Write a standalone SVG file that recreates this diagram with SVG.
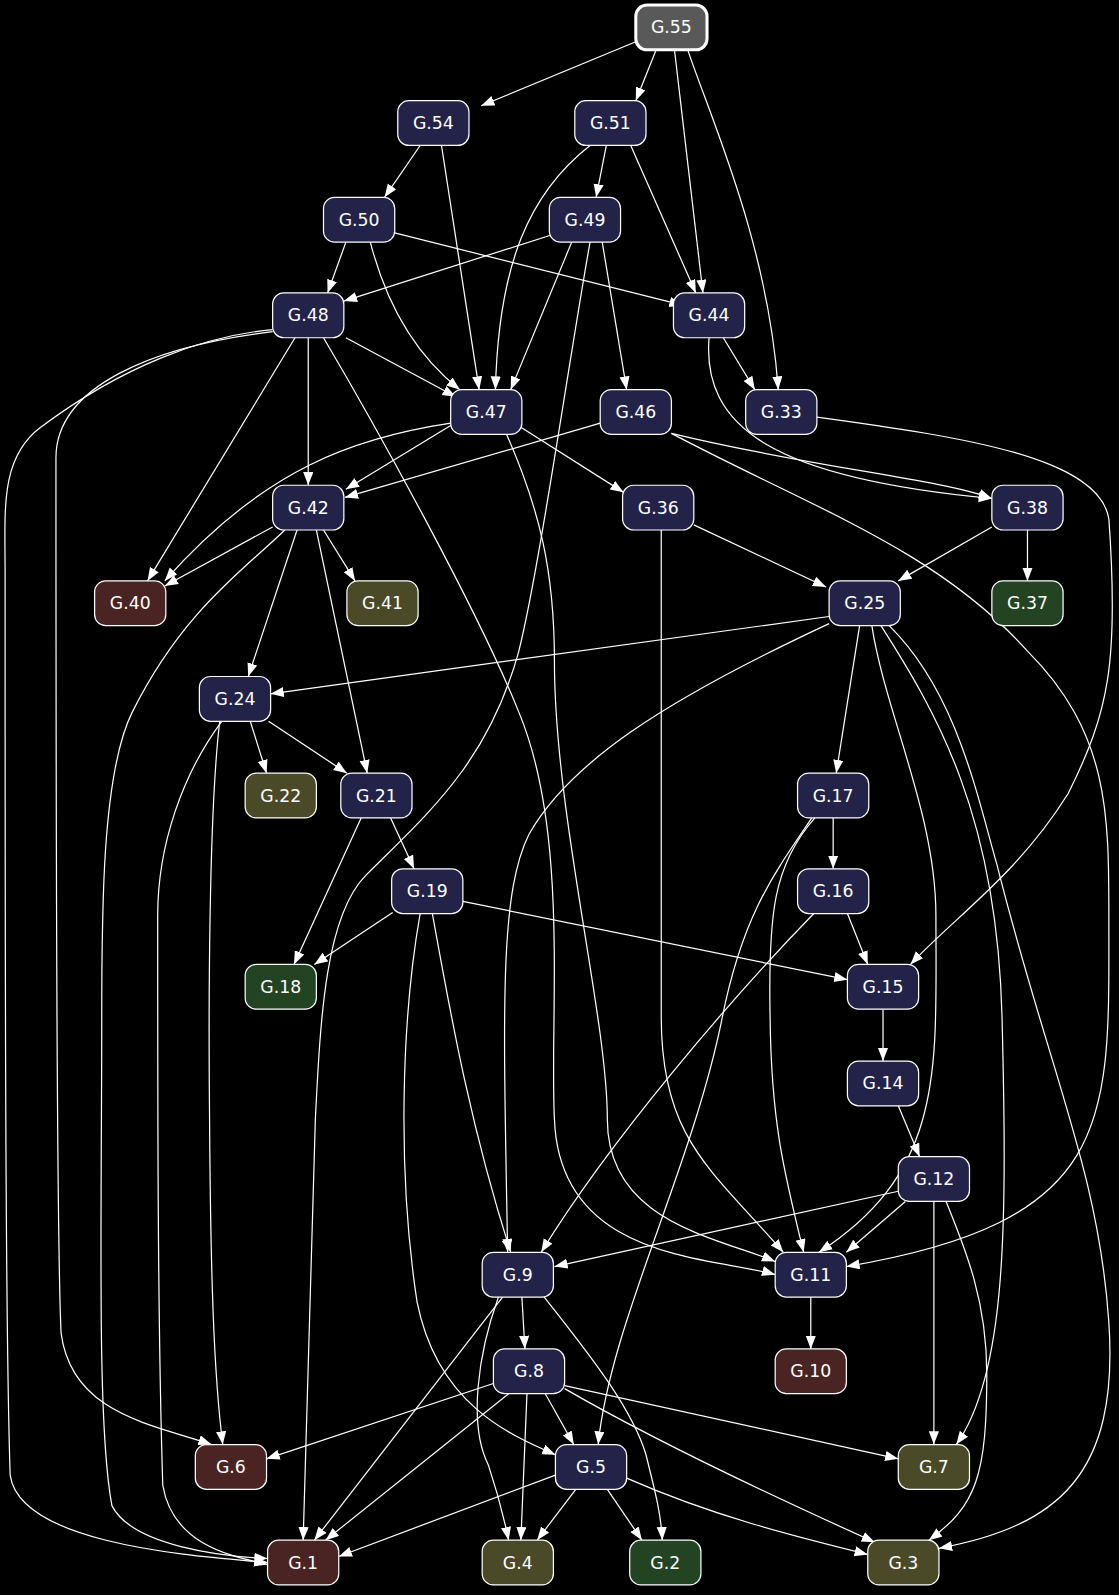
<svg xmlns="http://www.w3.org/2000/svg" width="1119" height="1595" viewBox="0 0 1119 1595">
<style>
.n rect{stroke:#fff;stroke-width:1.2}
.n text{fill:#fff;font-family:"DejaVu Sans",sans-serif;font-size:17px;text-anchor:middle;dominant-baseline:central}
.b rect{fill:#23234a}.r rect{fill:#4a2323}.o rect{fill:#4a4a28}.g rect{fill:#234423}
#edges path{fill:none;stroke:#fff;stroke-width:1.2;marker-end:url(#a)}
</style>
<defs><marker id="a" markerUnits="userSpaceOnUse" markerWidth="14" markerHeight="12" refX="13" refY="5" orient="auto"><path d="M0,0L13,5L0,10z" fill="#fff"/></marker></defs>
<rect width="1119" height="1595" fill="#000"/>
<g transform="scale(1.0173)">
<g id="edges">
<path d="M625,41L473,104"/>
<path d="M645,49L625,99"/>
<path d="M663,49L691,288"/>
<path d="M676,49C700,120 755,240 765,383"/>
<path d="M413,143L378,194"/>
<path d="M434,143L471,383"/>
<path d="M596,143L586,194"/>
<path d="M580,143C520,190 490,260 487,383"/>
<path d="M620,143L684,288"/>
<path d="M340,238L322,288"/>
<path d="M364,238C380,300 410,350 452,383"/>
<path d="M388,229L671,300"/>
<path d="M545,230L338,296"/>
<path d="M562,238L502,383"/>
<path d="M592,238L616,383"/>
<path d="M580,238C560,350 530,560 510,640C480,750 420,800 360,860C320,900 315,1000 310,1100C305,1300 300,1450 298,1514"/>
<path d="M340,332L448,390"/>
<path d="M303,332L303,477"/>
<path d="M290,332L145,571"/>
<path d="M268,324C200,330 120,360 40,420C0,450 5,500 5,560C5,900 5,1300 10,1450C20,1520 200,1530 263,1536"/>
<path d="M268,326C150,340 55,380 55,450C55,700 55,1200 60,1310C70,1390 150,1400 208,1420"/>
<path d="M318,332C370,420 470,600 510,700C560,820 540,1000 545,1100C550,1240 700,1235 762,1253"/>
<path d="M711,332L742,383"/>
<path d="M697,332C690,420 760,470 975,490"/>
<path d="M445,417L340,481"/>
<path d="M443,416C350,430 260,460 162,571"/>
<path d="M512,420L613,484"/>
<path d="M498,427C530,500 545,560 545,650C545,800 597,1000 597,1100C597,1200 700,1215 762,1240"/>
<path d="M590,416L339,489"/>
<path d="M660,426C800,460 920,470 975,490"/>
<path d="M660,426C800,500 920,540 1010,640C1090,720 1090,800 1090,900C1090,1100 1100,1200 832,1245"/>
<path d="M803,410C950,430 1080,450 1090,510C1100,650 1090,700 1050,780C1000,860 940,900 895,948"/>
<path d="M268,518L162,576"/>
<path d="M318,521L349,571"/>
<path d="M292,521L244,665"/>
<path d="M311,521L361,760"/>
<path d="M280,521C240,560 180,600 130,700C100,760 100,900 100,1000C100,1200 95,1400 110,1480C130,1520 220,1530 263,1532"/>
<path d="M682,516L812,577"/>
<path d="M650,521C650,700 650,900 650,1000C650,1120 700,1150 770,1231"/>
<path d="M975,518L883,571"/>
<path d="M1010,521L1010,571"/>
<path d="M815,606L266,682"/>
<path d="M815,613C650,690 560,750 520,820C490,880 495,1000 499,1231"/>
<path d="M845,615L822,760"/>
<path d="M857,615C870,700 920,800 920,900C920,1050 930,1150 805,1231"/>
<path d="M866,615C920,700 980,800 985,1000C990,1200 990,1350 940,1420"/>
<path d="M874,615C940,680 960,780 980,850C1030,1050 1080,1150 1090,1300C1100,1450 1040,1500 923,1522"/>
<path d="M246,709L262,760"/>
<path d="M264,709L341,760"/>
<path d="M218,709C180,760 155,830 155,900C155,1100 155,1300 160,1460C170,1520 230,1530 263,1538"/>
<path d="M216,709C205,800 205,1000 206,1100C207,1250 210,1350 219,1420"/>
<path d="M384,804L407,854"/>
<path d="M355,804L289,948"/>
<path d="M819,804L819,854"/>
<path d="M801,804C760,850 755,900 757,1000C758,1100 770,1150 790,1231"/>
<path d="M798,804C760,860 730,900 710,1000C680,1150 600,1300 588,1420"/>
<path d="M386,897L309,948"/>
<path d="M455,886L833,963"/>
<path d="M425,898C440,980 460,1100 502,1231"/>
<path d="M413,898C395,1000 390,1150 410,1280C430,1380 500,1410 546,1430"/>
<path d="M833,898L853,948"/>
<path d="M800,898C720,980 600,1120 532,1231"/>
<path d="M868,992L868,1043"/>
<path d="M883,1087L904,1137"/>
<path d="M883,1171L545,1245"/>
<path d="M890,1181L832,1231"/>
<path d="M918,1181L918,1420"/>
<path d="M930,1181C950,1230 970,1280 970,1350C970,1450 960,1480 913,1514"/>
<path d="M513,1275L516,1326"/>
<path d="M494,1275L309,1514"/>
<path d="M490,1275C470,1330 460,1400 480,1440C490,1470 495,1490 500,1514"/>
<path d="M535,1275C570,1320 620,1380 635,1430C645,1470 650,1490 651,1514"/>
<path d="M797,1275L797,1326"/>
<path d="M485,1360L262,1434"/>
<path d="M500,1370L320,1514"/>
<path d="M518,1370L512,1514"/>
<path d="M536,1370L564,1420"/>
<path d="M555,1362L883,1434"/>
<path d="M555,1365C650,1420 780,1480 860,1516"/>
<path d="M546,1450L333,1530"/>
<path d="M566,1464L528,1514"/>
<path d="M597,1464L631,1514"/>
<path d="M616,1453C700,1490 780,1510 853,1528"/>
</g>
<g id="G.55" class="n"><rect x="625" y="5" width="70" height="44" rx="11" fill="#595959" style="stroke-width:3"/><text x="660" y="27">G.55</text></g>
<g id="G.54" class="n b"><rect x="391" y="99" width="70" height="44" rx="11"/><text x="426" y="121">G.54</text></g>
<g id="G.51" class="n b"><rect x="565" y="99" width="70" height="44" rx="11"/><text x="600" y="121">G.51</text></g>
<g id="G.50" class="n b"><rect x="318" y="194" width="70" height="44" rx="11"/><text x="353" y="216">G.50</text></g>
<g id="G.49" class="n b"><rect x="540" y="194" width="70" height="44" rx="11"/><text x="575" y="216">G.49</text></g>
<g id="G.48" class="n b"><rect x="268" y="288" width="70" height="44" rx="11"/><text x="303" y="310">G.48</text></g>
<g id="G.44" class="n b"><rect x="662" y="288" width="70" height="44" rx="11"/><text x="697" y="310">G.44</text></g>
<g id="G.47" class="n b"><rect x="443" y="383" width="70" height="44" rx="11"/><text x="478" y="405">G.47</text></g>
<g id="G.46" class="n b"><rect x="590" y="383" width="70" height="44" rx="11"/><text x="625" y="405">G.46</text></g>
<g id="G.33" class="n b"><rect x="733" y="383" width="70" height="44" rx="11"/><text x="768" y="405">G.33</text></g>
<g id="G.42" class="n b"><rect x="268" y="477" width="70" height="44" rx="11"/><text x="303" y="499">G.42</text></g>
<g id="G.36" class="n b"><rect x="612" y="477" width="70" height="44" rx="11"/><text x="647" y="499">G.36</text></g>
<g id="G.38" class="n b"><rect x="975" y="477" width="70" height="44" rx="11"/><text x="1010" y="499">G.38</text></g>
<g id="G.40" class="n r"><rect x="93" y="571" width="70" height="44" rx="11"/><text x="128" y="593">G.40</text></g>
<g id="G.41" class="n o"><rect x="341" y="571" width="70" height="44" rx="11"/><text x="376" y="593">G.41</text></g>
<g id="G.25" class="n b"><rect x="815" y="571" width="70" height="44" rx="11"/><text x="850" y="593">G.25</text></g>
<g id="G.37" class="n g"><rect x="975" y="571" width="70" height="44" rx="11"/><text x="1010" y="593">G.37</text></g>
<g id="G.24" class="n b"><rect x="196" y="665" width="70" height="44" rx="11"/><text x="231" y="687">G.24</text></g>
<g id="G.22" class="n o"><rect x="241" y="760" width="70" height="44" rx="11"/><text x="276" y="782">G.22</text></g>
<g id="G.21" class="n b"><rect x="335" y="760" width="70" height="44" rx="11"/><text x="370" y="782">G.21</text></g>
<g id="G.17" class="n b"><rect x="784" y="760" width="70" height="44" rx="11"/><text x="819" y="782">G.17</text></g>
<g id="G.19" class="n b"><rect x="385" y="854" width="70" height="44" rx="11"/><text x="420" y="876">G.19</text></g>
<g id="G.16" class="n b"><rect x="784" y="854" width="70" height="44" rx="11"/><text x="819" y="876">G.16</text></g>
<g id="G.18" class="n g"><rect x="241" y="948" width="70" height="44" rx="11"/><text x="276" y="970">G.18</text></g>
<g id="G.15" class="n b"><rect x="833" y="948" width="70" height="44" rx="11"/><text x="868" y="970">G.15</text></g>
<g id="G.14" class="n b"><rect x="833" y="1043" width="70" height="44" rx="11"/><text x="868" y="1065">G.14</text></g>
<g id="G.12" class="n b"><rect x="883" y="1137" width="70" height="44" rx="11"/><text x="918" y="1159">G.12</text></g>
<g id="G.9" class="n b"><rect x="474" y="1231" width="70" height="44" rx="11"/><text x="509" y="1253">G.9</text></g>
<g id="G.11" class="n b"><rect x="762" y="1231" width="70" height="44" rx="11"/><text x="797" y="1253">G.11</text></g>
<g id="G.8" class="n b"><rect x="485" y="1326" width="70" height="44" rx="11"/><text x="520" y="1348">G.8</text></g>
<g id="G.10" class="n r"><rect x="762" y="1326" width="70" height="44" rx="11"/><text x="797" y="1348">G.10</text></g>
<g id="G.6" class="n r"><rect x="192" y="1420" width="70" height="44" rx="11"/><text x="227" y="1442">G.6</text></g>
<g id="G.5" class="n b"><rect x="546" y="1420" width="70" height="44" rx="11"/><text x="581" y="1442">G.5</text></g>
<g id="G.7" class="n o"><rect x="883" y="1420" width="70" height="44" rx="11"/><text x="918" y="1442">G.7</text></g>
<g id="G.1" class="n r"><rect x="263" y="1514" width="70" height="44" rx="11"/><text x="298" y="1536">G.1</text></g>
<g id="G.4" class="n o"><rect x="474" y="1514" width="70" height="44" rx="11"/><text x="509" y="1536">G.4</text></g>
<g id="G.2" class="n g"><rect x="619" y="1514" width="70" height="44" rx="11"/><text x="654" y="1536">G.2</text></g>
<g id="G.3" class="n o"><rect x="853" y="1514" width="70" height="44" rx="11"/><text x="888" y="1536">G.3</text></g>
</g>
</svg>
